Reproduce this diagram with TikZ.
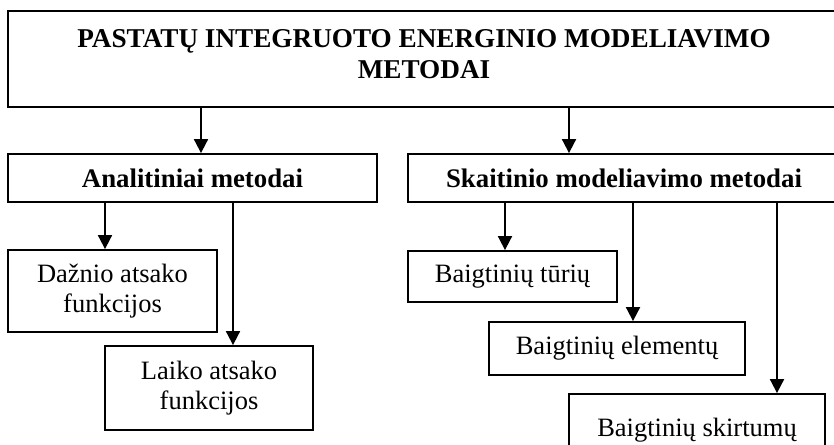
\documentclass[tikz,border=0pt]{standalone}
\usepackage{fontspec}
\setmainfont{Liberation Serif}
\usetikzlibrary{arrows.meta}
\begin{document}
\begin{tikzpicture}[x=1pt,y=-1pt,
  box/.style={draw=black,line width=1.8pt,inner sep=0pt,align=center,
    font=\fontsize{26.5}{30}\selectfont},
  bbox/.style={box,font=\fontsize{26.8}{31}\selectfont\bfseries},
  arr/.style={line width=1.8pt,-{Triangle[width=14pt,length=14pt]}}]
\useasboundingbox (0,0) rectangle (834,444);
% top box
\node[box,minimum width=832pt,minimum height=96pt] (top) at (424,59) {};
\node[inner sep=0pt,align=center,font=\fontsize{27.2}{31}\selectfont\bfseries] (title) at (424,54)
  {PASTATŲ INTEGRUOTO ENERGINIO MODELIAVIMO\\METODAI};
% second level
\node[bbox,minimum width=369pt,minimum height=48pt] (anal) at (192.5,178) {Analitiniai metodai};
\node[bbox,minimum width=432pt,minimum height=48pt] (skait) at (624,178) {Skaitinio modeliavimo metodai};
% third level
\node[box,minimum width=209pt,minimum height=82pt] (dazn) at (112.5,291) {Dažnio atsako\\funkcijos};
\node[box,minimum width=208pt,minimum height=84pt] (laik) at (209,388) {Laiko atsako\\funkcijos};
\node[box,minimum width=209pt,minimum height=51pt] (turiu) at (512.5,276.5) {Baigtinių tūrių};
\node[box,minimum width=256pt,minimum height=53pt] (elem) at (617,348.5) {Baigtinių elementų};
\node[box,minimum width=256pt,minimum height=72pt] (skirt) at (697,430) {Baigtinių skirtumų};
% arrow x positions
\coordinate (x1) at (201,0);
\coordinate (x2) at (569,0);
\coordinate (x3) at (105,0);
\coordinate (x4) at (233,0);
\coordinate (x5) at (505,0);
\coordinate (x6) at (633,0);
\coordinate (x7) at (777,0);
\draw[arr] (top.south -| x1) -- (anal.north -| x1);
\draw[arr] (top.south -| x2) -- (skait.north -| x2);
\draw[arr] (anal.south -| x3) -- (dazn.north -| x3);
\draw[arr] (anal.south -| x4) -- (laik.north -| x4);
\draw[arr] (skait.south -| x5) -- (turiu.north -| x5);
\draw[arr] (skait.south -| x6) -- (elem.north -| x6);
\draw[arr] (skait.south -| x7) -- (skirt.north -| x7);
\end{tikzpicture}
\end{document}
